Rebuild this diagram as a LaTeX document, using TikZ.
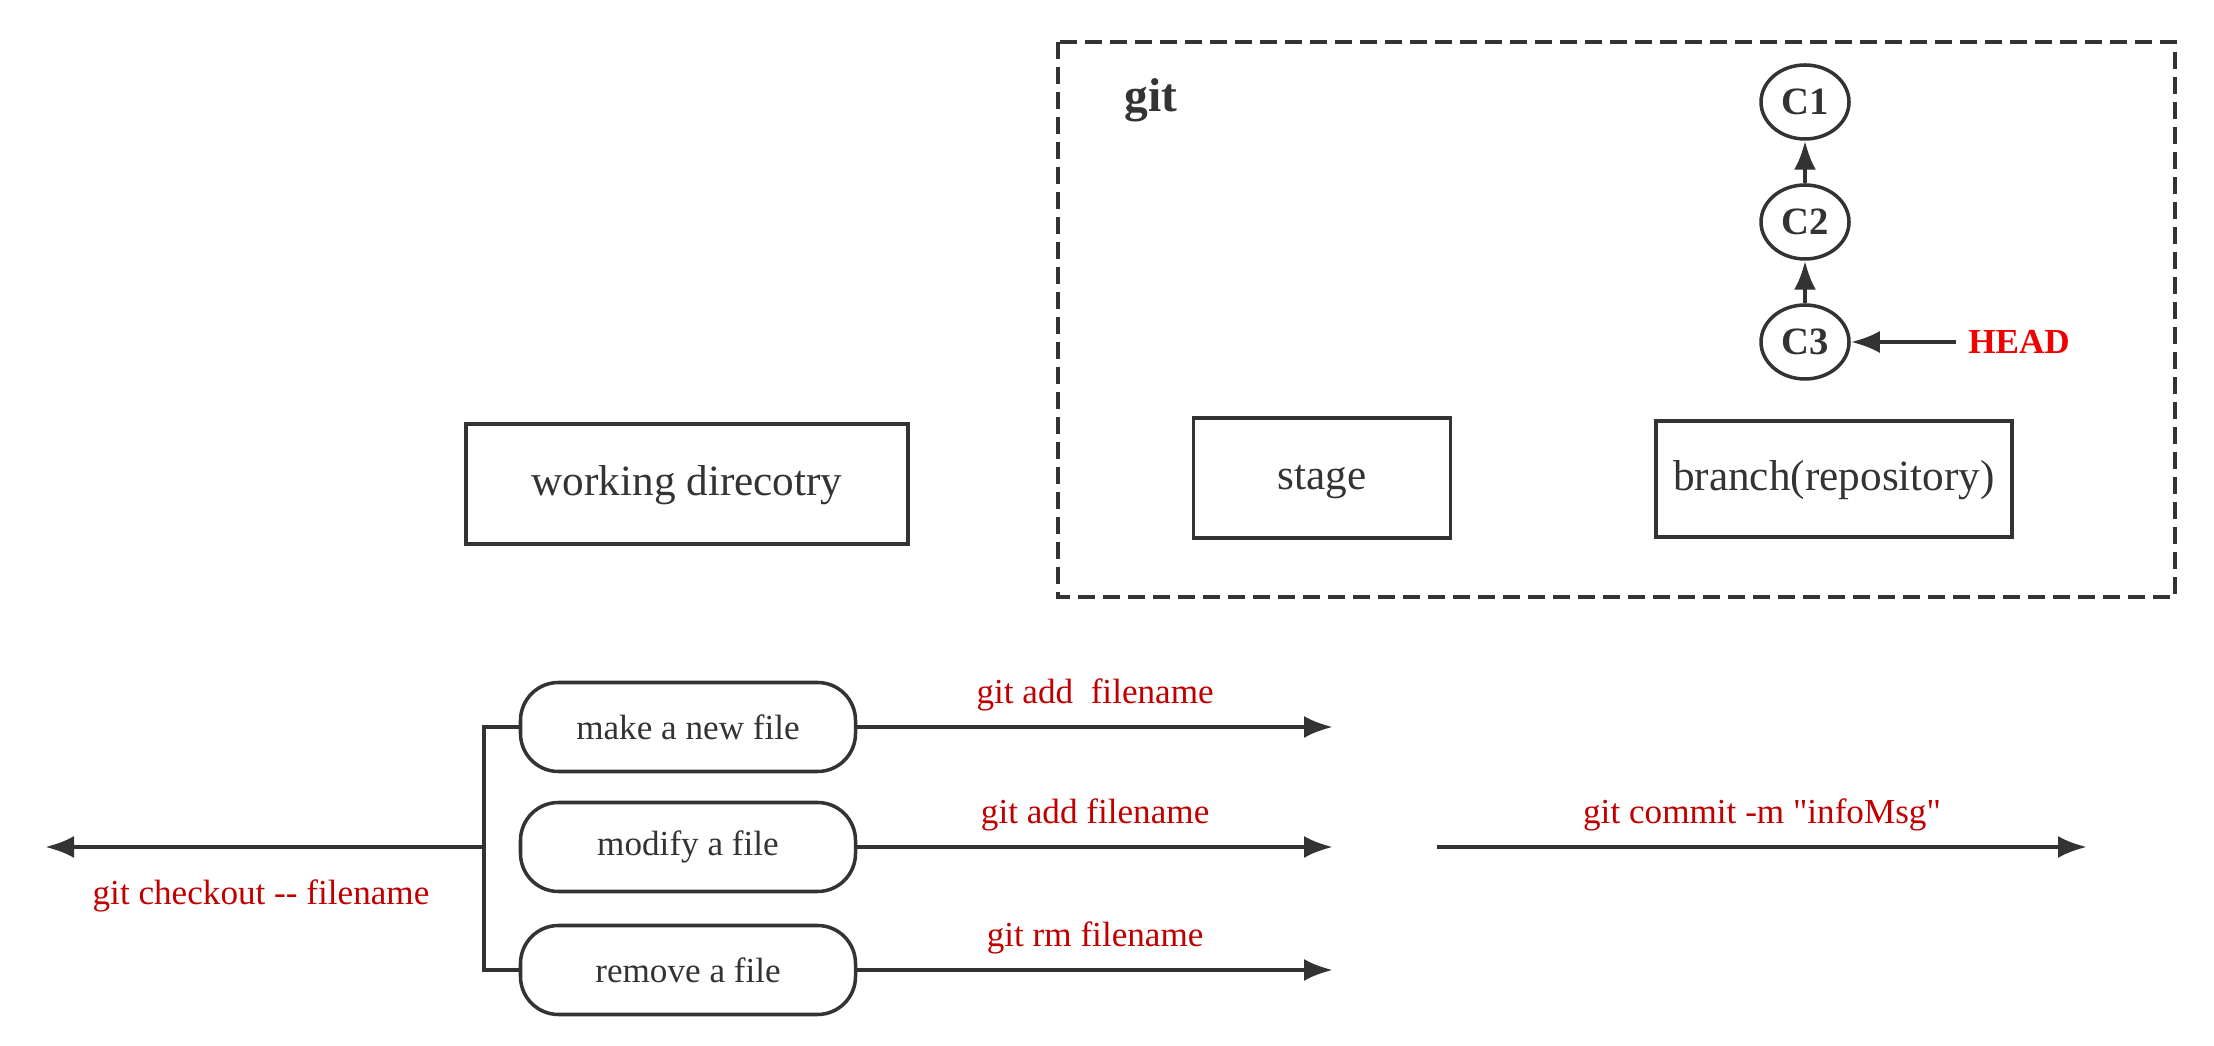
\documentclass[tikz,border=0pt]{standalone}
\usepackage{fontspec}
\setmainfont{Liberation Serif}[Ligatures=TeXOff]
\usetikzlibrary{arrows.meta,shapes.geometric}

\definecolor{linegray}{HTML}{333333}
\definecolor{cmdred}{HTML}{C00000}
\definecolor{headred}{HTML}{F00000}

\tikzset{
  area/.style={draw=linegray, line width=1pt, minimum height=1.2cm, text=linegray,
    text height=0.68em, text depth=0pt, font=\fontsize{12.3}{14}\selectfont},
  action/.style={draw=linegray, line width=1pt, rounded corners=0.38cm,
    minimum width=3.35cm, minimum height=0.89cm, text=linegray,
    font=\fontsize{10}{12}\selectfont},
  commit/.style={draw=linegray, line width=1pt, ellipse, inner sep=0pt,
    minimum width=0.88cm, minimum height=0.74cm, text=linegray,
    font=\bfseries\fontsize{11}{13}\selectfont},
  cmd/.style={text=cmdred, font=\fontsize{10}{12}\selectfont},
  line/.style={draw=linegray, line width=1.2pt},
  tip/.style={line, -{Latex[length=2.9mm,width=2.2mm]}}
}

\begin{document}
\begin{tikzpicture}
\useasboundingbox (0,0) rectangle (22.14,-10.46);

% git area
\draw[linegray, line width=1pt, dash pattern=on 1.7mm off 0.8mm] (10.58,-0.42) rectangle (21.75,-5.97);
\node[anchor=west, text=linegray, font=\bfseries\fontsize{13.5}{16}\selectfont] (gitlabel) at (11.12,-1.0) {git};

\node[commit] (c1) at (18.05,-1.02) {C1};
\node[commit] (c2) at (18.05,-2.22) {C2};
\node[commit] (c3) at (18.05,-3.42) {C3};
\node[text=headred, font=\bfseries\fontsize{10}{12}\selectfont] (head) at (20.19,-3.42) {HEAD};
\draw[tip] (c2) -- (c1);
\draw[tip] (c3) -- (c2);
\draw[tip] (head) -- (c3);

\node[area, minimum width=4.42cm] (work) at (6.87,-4.84) {working direcotry};
\node[area, minimum width=2.57cm] (stage) at (13.22,-4.78) {stage};
\node[area, minimum width=3.56cm, minimum height=1.16cm] (branch) at (18.34,-4.79) {branch(repository)};

% actions
\node[action] (newfile) at (6.88,-7.27) {make a new file};
\node[action] (modfile) at (6.88,-8.47) {modify a file};
\node[action] (rmfile) at (6.88,-9.70) {remove a file};

\draw[line] (newfile.west) -- ++(-0.35,0) |- (rmfile.west);
\coordinate (fork) at ([xshift=-0.35cm]modfile.west);
\coordinate (checkout) at (0.45,-8.47);
\draw[tip] (fork) -- (checkout);
\node[cmd] (checkoutlabel) at (2.61,-8.96) {git checkout -- filename};

\coordinate (addnew) at (13.33,-7.27);
\coordinate (addmod) at (13.33,-8.47);
\coordinate (addrm) at (13.33,-9.70);
\draw[tip] (newfile) -- (addnew) node[cmd, midway, above=0.2mm] (addnewlabel) {git add~ filename};
\draw[tip] (modfile) -- (addmod) node[cmd, midway, above=0.2mm] (addmodlabel) {git add filename};
\draw[tip] (rmfile) -- (addrm) node[cmd, midway, above=0.2mm] (addrmlabel) {git rm filename};

\coordinate (commitstart) at (14.37,-8.47);
\coordinate (commitend) at (20.87,-8.47);
\draw[tip] (commitstart) -- (commitend) node[cmd, midway, above=0.2mm] (commitlabel) {git commit -m "infoMsg"};
\end{tikzpicture}
\end{document}
